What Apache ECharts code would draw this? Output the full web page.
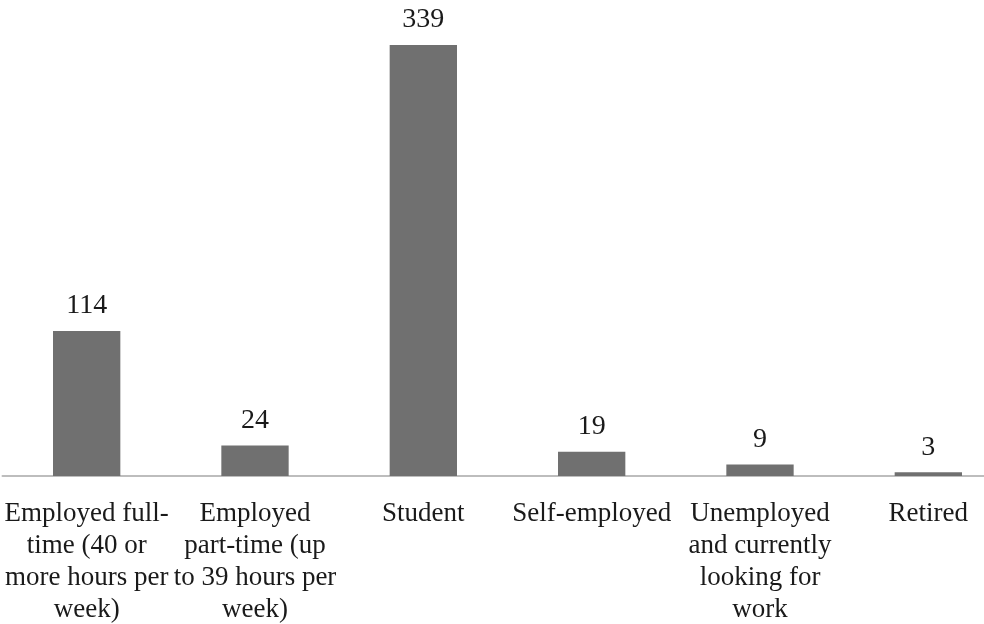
<!DOCTYPE html>
<html>
<head>
<meta charset="utf-8">
<style>
  html, body { margin: 0; padding: 0; background: #ffffff; }
  #chart { width: 984px; height: 624px; }
</style>
<script src="https://cdn.jsdelivr.net/npm/echarts@6/dist/echarts.min.js"></script>
</head>
<body>
<div id="chart"></div>
<script>
// Employment status of respondents
const categories = [
  'Employed full-\ntime (40 or\nmore hours per\nweek)',
  'Employed\npart-time (up\nto 39 hours per\nweek)',
  'Student',
  'Self-employed',
  'Unemployed\nand currently\nlooking for\nwork',
  'Retired'
];
const counts = [114, 24, 339, 19, 9, 3];

const chart = echarts.init(document.getElementById('chart'), null, { renderer: 'canvas' });

chart.setOption({
  backgroundColor: '#ffffff',
  animation: false,
  grid: {
    left: 2.5, top: 31, width: 1010, height: 445,
    containLabel: false,
    outerBoundsMode: 'none'
  },
  xAxis: {
    type: 'category',
    data: categories,
    axisLine: { show: true, lineStyle: { color: '#bdbdbd', width: 2 } },
    axisTick: { show: false },
    axisLabel: {
      interval: 0,
      margin: 22,
      color: '#1a1a1a',
      fontFamily: '"Liberation Serif", "Times New Roman", serif',
      fontSize: 27,
      lineHeight: 32,
      align: 'center'
    }
  },
  yAxis: {
    type: 'value',
    min: 0,
    max: 350,
    show: false,
    splitLine: { show: false }
  },
  series: [{
    type: 'bar',
    data: counts,
    barWidth: '40%',
    itemStyle: { color: '#707070' },
    label: {
      show: true,
      position: 'top',
      distance: 11,
      color: '#1a1a1a',
      fontFamily: '"Liberation Serif", serif',
      fontSize: 28
    }
  }]
});
</script>
</body>
</html>
